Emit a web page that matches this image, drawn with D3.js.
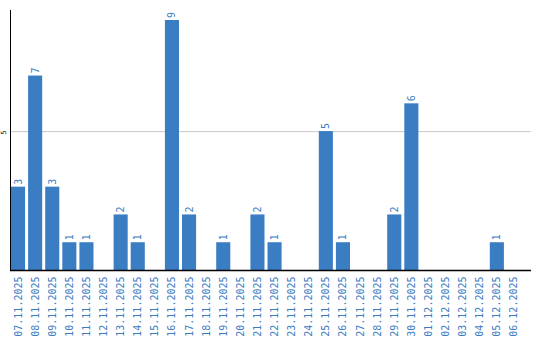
<!DOCTYPE html>
<html>
<head>
<meta charset="utf-8">
<script src="https://cdn.jsdelivr.net/npm/d3@7"></script>
<style>
  body { margin: 0; background: #fff; }
  text { font-family: "DejaVu Sans Mono", "Liberation Mono", monospace; }
</style>
</head>
<body>
<script>
// data
const dates = ['07.11.2025', '08.11.2025', '09.11.2025', '10.11.2025', '11.11.2025',
  '12.11.2025', '13.11.2025', '14.11.2025', '15.11.2025', '16.11.2025',
  '17.11.2025', '18.11.2025', '19.11.2025', '20.11.2025', '21.11.2025',
  '22.11.2025', '23.11.2025', '24.11.2025', '25.11.2025', '26.11.2025',
  '27.11.2025', '28.11.2025', '29.11.2025', '30.11.2025', '01.12.2025',
  '02.12.2025', '03.12.2025', '04.12.2025', '05.12.2025', '06.12.2025'];
const counts = [3, 7, 3, 1, 1, 0, 2, 1, 0, 9, 2, 0, 1, 0, 2, 1, 0, 0, 5, 1, 0, 0, 2, 6, 0, 0, 0, 0, 1, 0];
const yTicks = [5];

const width = 540, height = 340;
const mLeft = 11, mRight = 531, mTop = 10, mBottom = 270;
const blue = '#3a7dc3';
const mono = '"DejaVu Sans Mono", "Liberation Mono", monospace';

const svg = d3.select('body').append('svg')
  .attr('width', width)
  .attr('height', height);

const x = d3.scaleBand()
  .domain(dates)
  .range([mLeft, mLeft + 17 * dates.length])
  .paddingInner(3 / 17)
  .paddingOuter(0);

const y = d3.scaleLinear()
  .domain([0, 9.36])
  .range([mBottom, mTop]);

// gridline
svg.selectAll('.grid')
  .data(yTicks)
  .enter().append('line')
  .attr('x1', mLeft)
  .attr('x2', mRight)
  .attr('y1', d => y(d) + 0.5)
  .attr('y2', d => y(d) + 0.5)
  .attr('stroke', '#c8c8c8')
  .attr('stroke-width', 1);

// bars
svg.selectAll('.bar')
  .data(counts)
  .enter().append('rect')
  .attr('x', (d, i) => x(dates[i]))
  .attr('y', d => y(d))
  .attr('width', x.bandwidth())
  .attr('height', d => mBottom - y(d))
  .attr('fill', blue);

// value labels
counts.forEach((d, i) => {
  if (d <= 0) return;
  const cx = x(dates[i]) + x.bandwidth() / 2;
  svg.append('text')
    .attr('transform', `translate(${cx + 3.5},${y(d) - 2}) rotate(-90)`)
    .attr('text-anchor', 'start')
    .attr('fill', blue)
    .style('font-size', '10px')
    .style('font-family', mono)
    .text(d);
});

// x axis labels
const xAxis = svg.append('g')
  .attr('transform', `translate(0,${mBottom})`)
  .call(d3.axisBottom(x).tickSize(0).tickPadding(0));
xAxis.select('.domain').remove();
xAxis.selectAll('text')
  .attr('fill', blue)
  .attr('y', 0)
  .attr('dy', 0)
  .style('font-size', '10px')
  .style('font-family', mono)
  .attr('text-anchor', 'end')
  .attr('transform', 'translate(3.5,6.5) rotate(-90)');

// y axis label
const yAxis = svg.append('g')
  .attr('transform', `translate(${mLeft},0)`)
  .call(d3.axisLeft(y).tickValues(yTicks).tickSize(0).tickPadding(0));
yAxis.select('.domain').remove();
yAxis.selectAll('text')
  .attr('fill', '#000')
  .attr('x', 0)
  .attr('dy', 0)
  .style('font-size', '7px')
  .style('font-family', mono)
  .attr('text-anchor', 'middle')
  .attr('transform', 'translate(-5,1) rotate(-90)');

// axis lines
svg.append('line')
  .attr('x1', mLeft - 0.5).attr('x2', mLeft - 0.5)
  .attr('y1', mTop).attr('y2', mBottom + 1)
  .attr('stroke', '#000').attr('stroke-width', 1);
svg.append('line')
  .attr('x1', mLeft - 1).attr('x2', mRight)
  .attr('y1', mBottom + 0.5).attr('y2', mBottom + 0.5)
  .attr('stroke', '#000').attr('stroke-width', 1.5);
</script>
</body>
</html>
